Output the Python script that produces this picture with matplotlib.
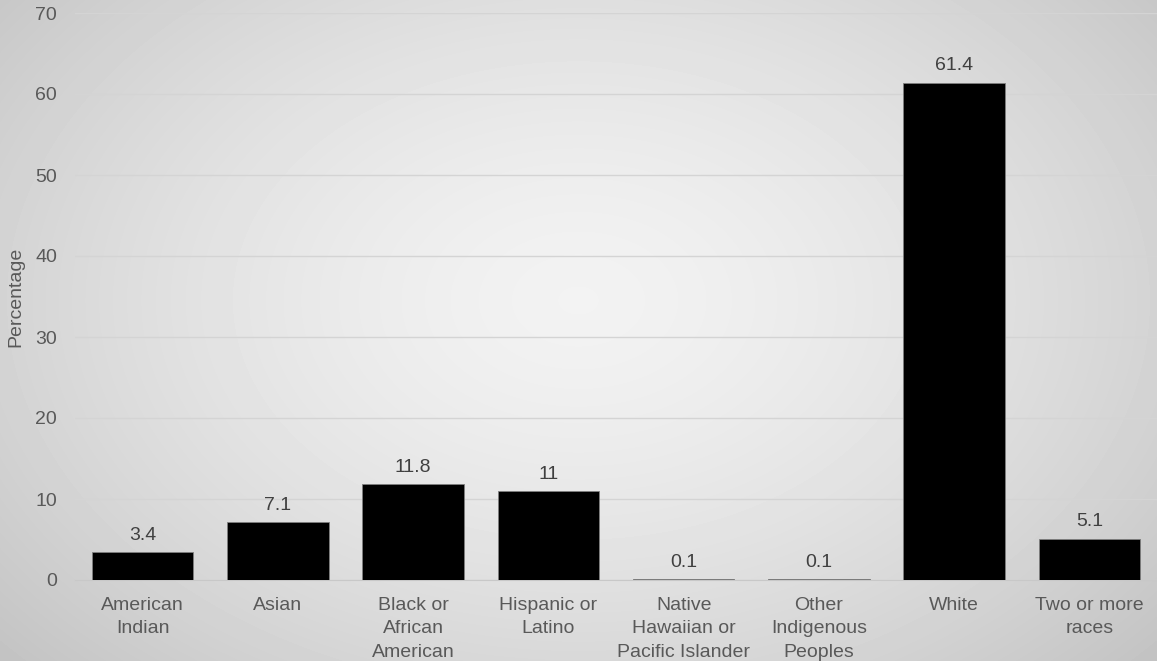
import matplotlib.pyplot as plt
import numpy as np

plt.rcParams['font.family'] = ['Liberation Sans', 'DejaVu Sans']

categories = ['American\nIndian', 'Asian', 'Black or\nAfrican\nAmerican', 'Hispanic or\nLatino',
              'Native\nHawaiian or\nPacific Islander', 'Other\nIndigenous\nPeoples', 'White', 'Two or more\nraces']
values = [3.4, 7.1, 11.8, 11, 0.1, 0.1, 61.4, 5.1]
labels = ['3.4', '7.1', '11.8', '11', '0.1', '0.1', '61.4', '5.1']

fig = plt.figure(figsize=(11.57, 6.61), dpi=100)

# radial gradient background
bg = fig.add_axes([0, 0, 1, 1], zorder=-10)
yy, xx = np.mgrid[0:661, 0:1157]
r = np.sqrt(((xx - 578) / 578.0) ** 2 + ((yy - 300) / 400.0) ** 2)
shade = np.clip(0.95 - 0.12 * r ** 1.5, 0, 1)
bg.imshow(shade, cmap='gray', vmin=0, vmax=1, aspect='auto', extent=[0, 1, 0, 1])
bg.axis('off')

ax = fig.add_axes([75 / 1157, 1 - 580 / 661, 1 - 75 / 1157, (580 - 13) / 661])
ax.patch.set_alpha(0)
x = np.arange(len(categories))
bars = ax.bar(x, values, width=0.75, color='black', edgecolor='#7f7f7f', linewidth=0.6, zorder=3)
for xi, v, t in zip(x, values, labels):
    ax.annotate(t, (xi, v), xytext=(0, 6), textcoords='offset points',
                ha='center', va='bottom', fontsize=14, color='#404040')

ax.set_xlim(-0.5, 7.5)
ax.set_ylim(0, 70)
ax.set_yticks(range(0, 71, 10))
ax.yaxis.grid(True, color='#d4d4d4', linewidth=1, zorder=0)
for s in ['top', 'right', 'left']:
    ax.spines[s].set_visible(False)
ax.spines['bottom'].set_color('#c8c8c8')
ax.tick_params(axis='both', length=0, labelsize=14, labelcolor='#595959')
ax.tick_params(axis='y', pad=13)
ax.tick_params(axis='x', pad=12)
ax.set_xticks(x)
ax.set_xticklabels(categories, linespacing=1.5)
ax.set_ylabel('Percentage', fontsize=14, color='#595959')
ax.yaxis.set_label_coords(-51 / 1082, 0.5)

fig.savefig('out.png', dpi=100)
